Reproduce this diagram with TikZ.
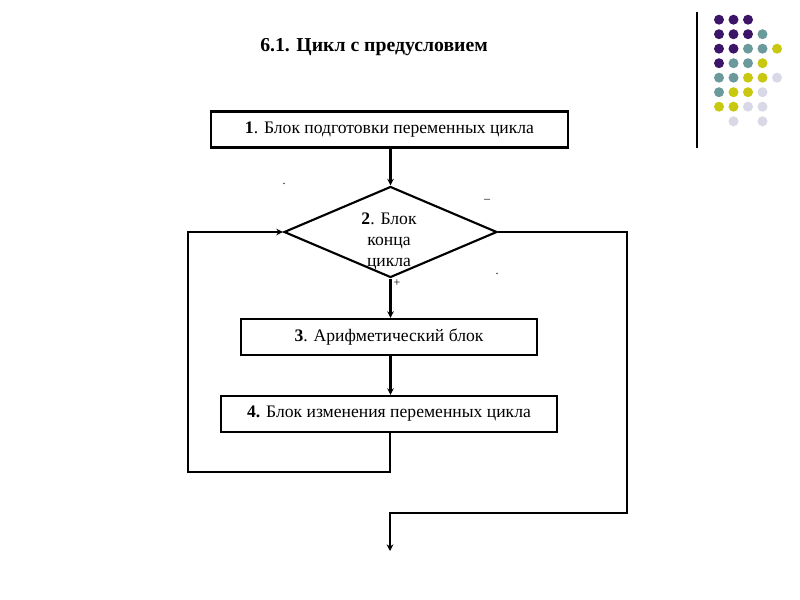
\documentclass[tikz,border=0pt]{standalone}
\usepackage{fontspec}
\setmainfont{Liberation Serif}
\usetikzlibrary{shapes.geometric,arrows.meta}
\definecolor{dpurple}{HTML}{3D1568}
\definecolor{dteal}{HTML}{6A9A9C}
\definecolor{dyellow}{HTML}{C8C810}
\definecolor{dlav}{HTML}{D8D8E6}
\begin{document}
\begin{tikzpicture}[x=0.75pt,y=-0.75pt,
  line/.style={line width=1.6pt},
  arr/.style={line width=1.6pt,-{Stealth[length=5pt,width=5pt]}},
  blockbox/.style={draw,line width=1.6pt,minimum height=27pt,font=\fontsize{13.2}{15}\selectfont,inner sep=0pt},
  lbl/.style={font=\fontsize{9}{10}\selectfont,inner sep=0pt},
  dot/.style={circle,fill=#1,minimum size=7.5pt,inner sep=0pt}]
\useasboundingbox (0,0) rectangle (800,600);
% title
\node[font=\fontsize{14.8}{17}\selectfont\bfseries] (title) at (374,47) {6.1. Цикл с предусловием};
% decoration
\draw[line width=1pt] (697,12) -- (697,148);
\foreach \r/\cols in {0/{dpurple,dpurple,dpurple},1/{dpurple,dpurple,dpurple,dteal},2/{dpurple,dpurple,dteal,dteal,dyellow},3/{dpurple,dteal,dteal,dyellow},4/{dteal,dteal,dyellow,dyellow,dlav},5/{dteal,dyellow,dyellow,dlav},6/{dyellow,dyellow,dlav,dlav}}{
  \foreach \c [count=\i from 0] in \cols {
    \node[dot=\c] at ({719+14.5*\i},{19.7+14.5*\r}) {};
  }
}
\node[dot=dlav] at (733.5,121.3) {};
\node[dot=dlav] at (762.5,121.3) {};
% blocks
\node[blockbox,minimum width=267.75pt] (b1) at (389.5,129.5) {\textbf{1}. Блок подготовки переменных цикла};
\node[diamond,draw,line width=1.6pt,minimum width=159.75pt,minimum height=68.25pt,aspect=2.34,inner sep=0pt] (b2) at (390.5,232) {};
\node[font=\fontsize{13.2}{16}\selectfont,align=center] (b2t) at (389,241.5) {\textbf{2}. Блок\\конца\\цикла};
\node[blockbox,minimum width=222pt] (b3) at (389,337) {\textbf{3}. Арифметический блок};
\node[blockbox,minimum width=252pt] (b4) at (389,414) {\textbf{4.} Блок изменения переменных цикла};
% small labels
\node[lbl] (d1) at (284,184) {.};
\node[lbl] (minus) at (487,201) {–};
\node[lbl] (plus) at (397,283) {+};
\node[lbl] (d2) at (497,274) {.};
% coordinates
\coordinate (l1) at (390,472);
\coordinate (l2) at (188,472);
\coordinate (l3) at (188,232);
\coordinate (r1) at (627,232);
\coordinate (r2) at (627,513);
\coordinate (r3) at (390,513);
\coordinate (out) at (390,551);
% connectors
\draw[arr] (b1.south -| b2.north) -- (b2.north);
\draw[arr] (b2.south) -- (b3.north -| b2.south);
\draw[arr] (b3.south -| b2.south) -- (b4.north -| b2.south);
\draw[arr] (b4.south -| l1) -- (l1) -- (l2) -- (l3) -- (b2.west);
\draw[arr] (b2.east) -- (r1) -- (r2) -- (r3) -- (out);
\end{tikzpicture}
\end{document}
